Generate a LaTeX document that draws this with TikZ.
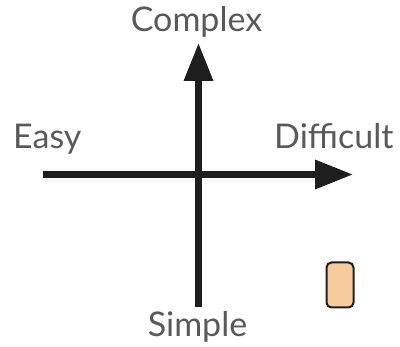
\documentclass[tikz,border=0pt]{standalone}
\usepackage{fontspec}
\setmainfont{Lato}
\usetikzlibrary{arrows.meta}
\definecolor{axis}{HTML}{1E1E1E}
\definecolor{lbl}{HTML}{595959}
\definecolor{boxfill}{HTML}{F9CB9C}
\begin{document}
\begin{tikzpicture}[x=1pt,y=-1pt,
  axisline/.style={draw=axis,line width=6.5pt,-{Triangle[length=38pt,width=28pt]}},
  label/.style={text=lbl,font=\fontsize{34}{34}\selectfont,inner sep=0pt,anchor=base},
  legendbox/.style={draw=axis,fill=boxfill,line width=2pt,rounded corners=5pt,minimum width=27pt,minimum height=45pt,inner sep=0pt}]
\useasboundingbox (0,0) rectangle (400,347);
\coordinate (L) at (43,174.5);
\coordinate (R) at (353,174.5);
\coordinate (B) at (198.5,307);
\coordinate (T) at (198.5,43);
\draw[axisline] (L) -- (R);
\draw[axisline] (B) -- (T);
\node[label] (complex) at (196.5,32) {Complex};
\node[label,anchor=base west] (easy) at (13,149) {Easy};
\node[label,anchor=base west] (difficult) at (274,149) {Difficult};
\node[label] (simple) at (197.5,337) {Simple};
\node[legendbox] (box) at (340,285) {};
\end{tikzpicture}
\end{document}
